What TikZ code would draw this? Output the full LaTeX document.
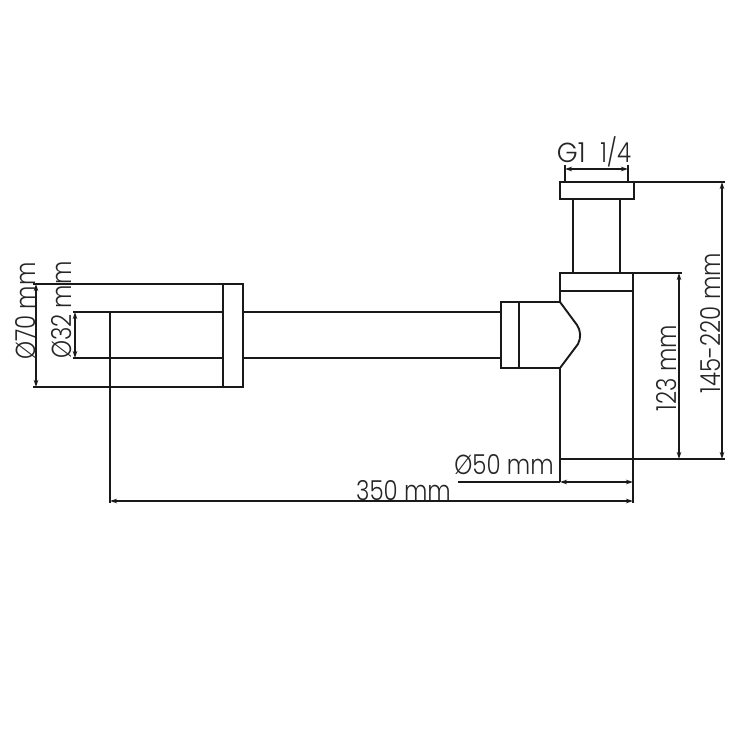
\documentclass[tikz,border=0pt]{standalone}
\usepackage{fontspec}
\setmainfont{Poppins Light}
\usetikzlibrary{arrows.meta}
\newcommand{\tall}[1]{\scalebox{1.04}[1.25]{#1}}
\tikzset{
  part/.style={line width=1.9pt,line join=miter,black!90},
  heavy/.style={line width=2.6pt,black!90},
  dimline/.style={line width=1.6pt,black!90},
  dimtips/.style={dimline,{Stealth[length=7pt,width=4.5pt]}-{Stealth[length=7pt,width=4.5pt]}},
  lbl/.style={inner sep=0pt,font=\fontsize{22}{22}\selectfont,text=black!85}
}
\begin{document}
\begin{tikzpicture}[x=1pt,y=-1pt]
\useasboundingbox (0,0) rectangle (740,740);
% drain body
\draw[part] (560,182) rectangle (634,199);
\draw[part] (573,199) -- (573,273);
\draw[part] (620,199) -- (620,273);
\draw[part] (560,291) -- (560,273) -- (633,273);
\draw[heavy] (561,291) -- (633,291);
\draw[part] (560,291) -- (560,302);
\draw[part] (560,368) -- (560,482);
\draw[part] (633,273) -- (633,503);
% elbow
\draw[part] (560,302) -- (501,302) -- (501,368) -- (560,368);
\draw[heavy] (519,302) -- (519,368);
\draw[part] (560,302) -- (577,325) .. controls (581,331) and (581,338) .. (578,344) -- (560,368);
% arm
\draw[part] (243,312) -- (501,312);
\draw[part] (243,358) -- (501,358);
\draw[part] (33,284) -- (243,284) -- (243,387) -- (33,387);
\draw[part] (223,284) -- (223,387);
\draw[part] (73,312) -- (223,312);
\draw[part] (73,358) -- (223,358);
% extension lines
\coordinate (topE) at (725,182);
\coordinate (midE) at (682,273);
\coordinate (botE) at (725,459);
\draw[dimline] (634,182) -- (topE);
\draw[dimline] (633,273) -- (midE);
\draw[dimline] (561,459) -- (botE);
\draw[dimline] (565,165) -- (565,182);
\draw[dimline] (628,165) -- (628,182);
\draw[dimline] (110,312) -- (110,503);
% dimensions
\coordinate (ga) at (565,169); \coordinate (gb) at (628,169);
\coordinate (da) at (722,182); \coordinate (db) at (722,459);
\coordinate (ea) at (679,273); \coordinate (eb) at (679,459);
\coordinate (fa) at (560,482); \coordinate (fb) at (633,482); \coordinate (fc) at (458,482);
\coordinate (ha) at (110,501); \coordinate (hb) at (633,501);
\coordinate (ia) at (36,284); \coordinate (ib) at (36,387);
\coordinate (ja) at (75,312); \coordinate (jb) at (75,358);
\draw[dimtips] (ga) -- (gb);
\draw[dimtips] (da) -- (db);
\draw[dimtips] (ea) -- (eb);
\draw[dimtips] (fa) -- (fb);
\draw[dimline] (fc) -- (fa);
\draw[dimtips] (ha) -- (hb);
\draw[dimtips] (ia) -- (ib);
\draw[dimtips] (ja) -- (jb);
% labels
\node[lbl] (g) at (594,151.5) {\tall{\scalebox{1.17}[1]{G1}\hspace{8pt} 1/4}};
\node[lbl] (d50) at (504,465) {\tall{Ø50 mm}};
\node[lbl] (d350) at (403.5,491) {\tall{350 mm}};
\node[lbl,rotate=90] (d123) at (667,368) {\tall{123 mm}};
\node[lbl,rotate=90] (d145) at (710.5,323) {\tall{145-220 mm}};
\node[lbl,rotate=90] (d70) at (25.5,311) {\tall{Ø70 mm}};
\node[lbl,rotate=90] (d32) at (62,310) {\tall{Ø32 mm}};
\end{tikzpicture}
\end{document}
